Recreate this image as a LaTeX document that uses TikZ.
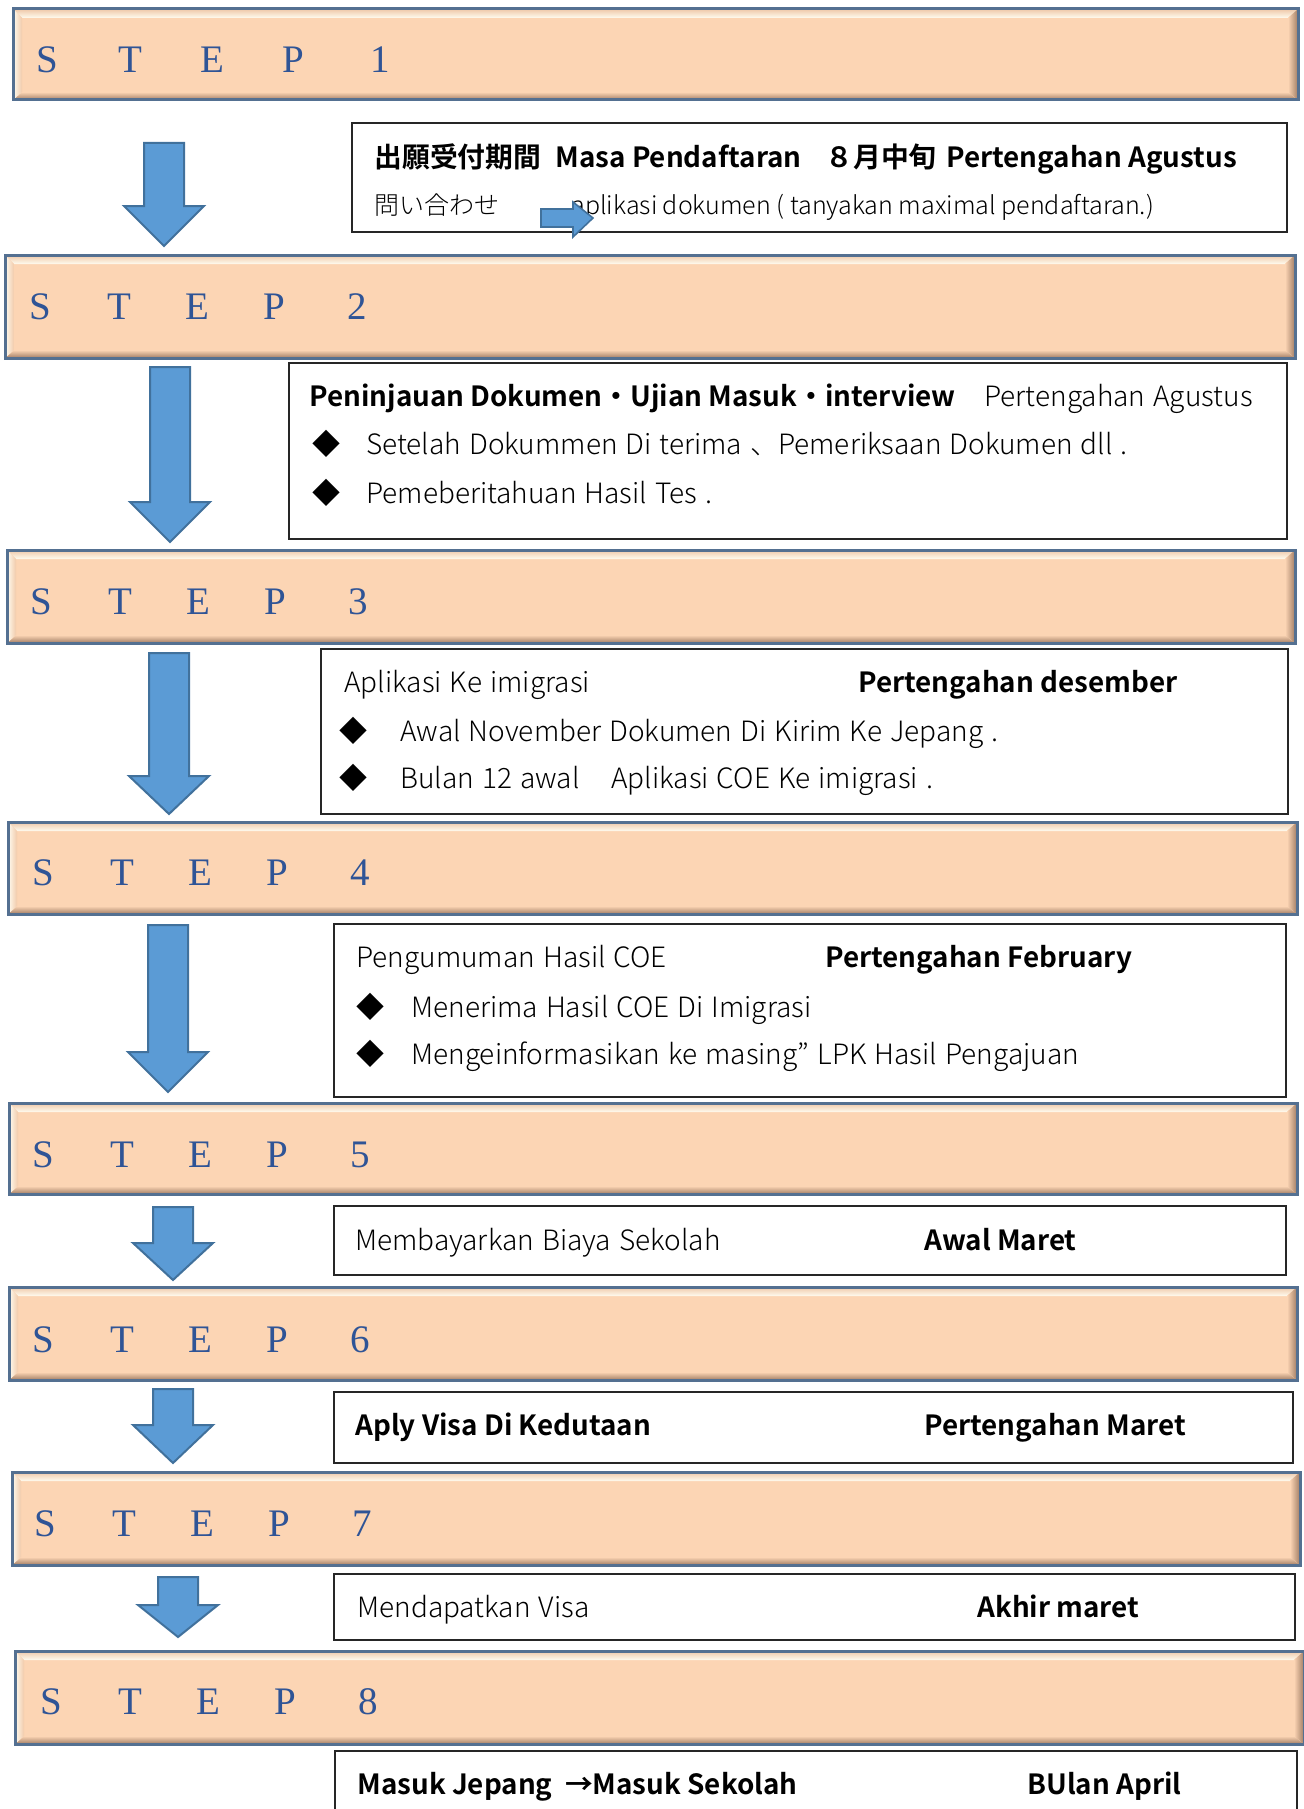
\documentclass[tikz,border=0pt]{standalone}
\usepackage{fontspec}
\setmainfont{Noto Sans CJK JP Light}[BoldFont={Noto Sans CJK JP Bold}]
\newfontfamily\boxfont{Noto Sans CJK JP Light}[WordSpace=1.3]
\newfontfamily\stepfont{Liberation Serif}

\definecolor{barfill}{RGB}{252,213,180}
\definecolor{barline}{RGB}{84,112,145}
\definecolor{barhigh}{RGB}{255,252,240}
\definecolor{barshade}{RGB}{160,124,100}
\definecolor{stepblue}{RGB}{47,84,150}
\definecolor{arrowfill}{RGB}{91,155,213}
\definecolor{arrowline}{RGB}{65,113,156}

\newcommand\stepword[2][39pt]{\makebox[#1][l]{S}\makebox[#1][l]{T}\makebox[#1][l]{E}\makebox[#1][l]{P}\hspace{3pt}#2}
\newcommand\bigarrow[4]{\draw[blockarrow] (#1-20,#2) -- (#1+20,#2) -- (#1+20,#3) -- (#1+40,#3) -- (#1,#4) -- (#1-40,#3) -- (#1-20,#3) -- cycle;}

\begin{document}
\begin{tikzpicture}[x=0.5pt,y=-0.5pt,
  stepbar/.style={draw=barline,line width=1.5pt,fill=barfill,path picture={
    \coordinate (nw) at (path picture bounding box.north west);
    \coordinate (ne) at (path picture bounding box.north east);
    \coordinate (sw) at (path picture bounding box.south west);
    \coordinate (se) at (path picture bounding box.south east);
    \fill[top color=barfill!85!barshade,bottom color=barhigh] (nw) -- (ne) -- ([shift={(-5pt,-4.5pt)}]ne) -- ([shift={(4.5pt,-4.5pt)}]nw) -- cycle;
    \fill[top color=barfill,bottom color=barshade] (sw) -- (se) -- ([shift={(-5pt,4pt)}]se) -- ([shift={(4.5pt,4pt)}]sw) -- cycle;
    \fill[left color=barfill,right color=barshade] (ne) -- (se) -- ([shift={(-5pt,4pt)}]se) -- ([shift={(-5pt,-4.5pt)}]ne) -- cycle;
    \fill[left color=barhigh,right color=barfill!88!barshade] (nw) -- (sw) -- ([shift={(4.5pt,4pt)}]sw) -- ([shift={(4.5pt,-4.5pt)}]nw) -- cycle;
  }},
  steplabel/.style={anchor=base west,inner sep=0pt,text=stepblue,font=\stepfont\fontsize{19.5}{22}\selectfont},
  infobox/.style={draw=black!85,line width=0.8pt,fill=white},
  blockarrow/.style={draw=arrowline,line width=1pt,fill=arrowfill},
  txt/.style={anchor=base west,inner sep=0pt,font=\boxfont\fontsize{14}{16}\selectfont},
  txtb/.style={txt,font=\fontsize{13.9}{16}\selectfont\bfseries},
  small/.style={anchor=base west,inner sep=0pt,font=\fontsize{12.5}{14}\selectfont}]
\useasboundingbox (0,0) rectangle (1303,1809);

\draw[stepbar] (13,9) rectangle (1298,100);
\draw[stepbar] (5,255) rectangle (1295,358);
\draw[stepbar] (7,550) rectangle (1295,643);
\draw[stepbar] (8,822) rectangle (1297,914);
\draw[stepbar] (9,1103) rectangle (1297,1194);
\draw[stepbar] (9,1287) rectangle (1297,1380);
\draw[stepbar] (12,1472) rectangle (1300,1565);
\draw[stepbar] (15,1651) rectangle (1304,1744);

\node[steplabel] (s1) at (36,73) {\stepword[41pt]{1}};
\node[steplabel] (s2) at (29,319) {\stepword{2}};
\node[steplabel] (s3) at (30,614) {\stepword{3}};
\node[steplabel] (s4) at (32,885) {\stepword{4}};
\node[steplabel] (s5) at (32,1167) {\stepword{5}};
\node[steplabel] (s6) at (32,1352) {\stepword{6}};
\node[steplabel] (s7) at (34,1536) {\stepword{7}};
\node[steplabel] (s8) at (40,1714) {\stepword{8}};

\bigarrow{164}{143}{206}{246}
\bigarrow{170}{367}{502}{542}
\bigarrow{169}{653}{776}{814}
\bigarrow{168}{925}{1052}{1092}
\bigarrow{173}{1207}{1243}{1280}
\bigarrow{173}{1389}{1425}{1463}
\bigarrow{178}{1577}{1605}{1637}

\draw[infobox] (352,123) rectangle (1287,232);
\draw[infobox] (289,363) rectangle (1287,539);
\draw[infobox] (321,649) rectangle (1288,814);
\draw[infobox] (334,924) rectangle (1286,1097);
\draw[infobox] (334,1206) rectangle (1286,1275);
\draw[infobox] (334,1392) rectangle (1293,1463);
\draw[infobox] (334,1574) rectangle (1295,1640);
\draw[infobox] (335,1751) rectangle (1297,1840);

\node[txtb] (t1a) at (374,168) {出願受付期間};
\node[txtb] (t1b) at (555,168) {Masa Pendaftaran};
\node[txtb] (t1c) at (825,168) {８月中旬};
\node[txtb] (t1d) at (946,168) {Pertengahan Agustus};
\node[small] (t1e) at (374,214) {問い合わせ};
\node[small] (t1f) at (571,214) {aplikasi dokumen ( tanyakan maximal pendaftaran.)};
\draw[blockarrow,line width=0.8pt] (541,209) -- (573,209) -- (573,202) -- (593,218) -- (573,237) -- (573,227) -- (541,227) -- cycle;

\node[txtb] (t2a) at (309,406) {Peninjauan Dokumen・Ujian Masuk・interview};
\node[txt] (t2b) at (984,406) {Pertengahan Agustus};
\node[txt] (d2a) at (312,454) {◆};
\node[txt] (t2c) at (366,454) {Setelah Dokummen Di terima 、Pemeriksaan Dokumen dll .};
\node[txt] (d2b) at (312,503) {◆};
\node[txt] (t2d) at (366,503) {Pemeberitahuan Hasil Tes .};

\node[txt] (t3a) at (344,692) {Aplikasi Ke imigrasi};
\node[txtb] (t3b) at (858,692) {Pertengahan desember};
\node[txt] (d3a) at (339,741) {◆};
\node[txt] (t3c) at (400,741) {Awal November Dokumen Di Kirim Ke Jepang .};
\node[txt] (d3b) at (339,788) {◆};
\node[txt] (t3d) at (400,788) {Bulan 12 awal};
\node[txt] (t3e) at (611,788) {Aplikasi COE Ke imigrasi .};

\node[txt] (t4a) at (356,967) {Pengumuman Hasil COE};
\node[txtb] (t4b) at (825,967) {Pertengahan February};
\node[txt] (d4a) at (356,1017) {◆};
\node[txt] (t4c) at (411,1017) {Menerima Hasil COE Di Imigrasi};
\node[txt] (d4b) at (356,1064) {◆};
\node[txt] (t4d) at (411,1064) {Mengeinformasikan ke masing” LPK Hasil Pengajuan};

\node[txt] (t5a) at (355,1250) {Membayarkan Biaya Sekolah};
\node[txtb] (t5b) at (924,1250) {Awal Maret};

\node[txtb] (t6a) at (355,1435) {Aply Visa Di Kedutaan};
\node[txtb] (t6b) at (924,1435) {Pertengahan Maret};

\node[txt] (t7a) at (357,1617) {Mendapatkan Visa};
\node[txtb] (t7b) at (977,1617) {Akhir maret};

\node[txtb] (t8a) at (357,1794) {Masuk Jepang \ →Masuk Sekolah};
\node[txtb] (t8b) at (1027,1794) {BUlan April};
\end{tikzpicture}
\end{document}
